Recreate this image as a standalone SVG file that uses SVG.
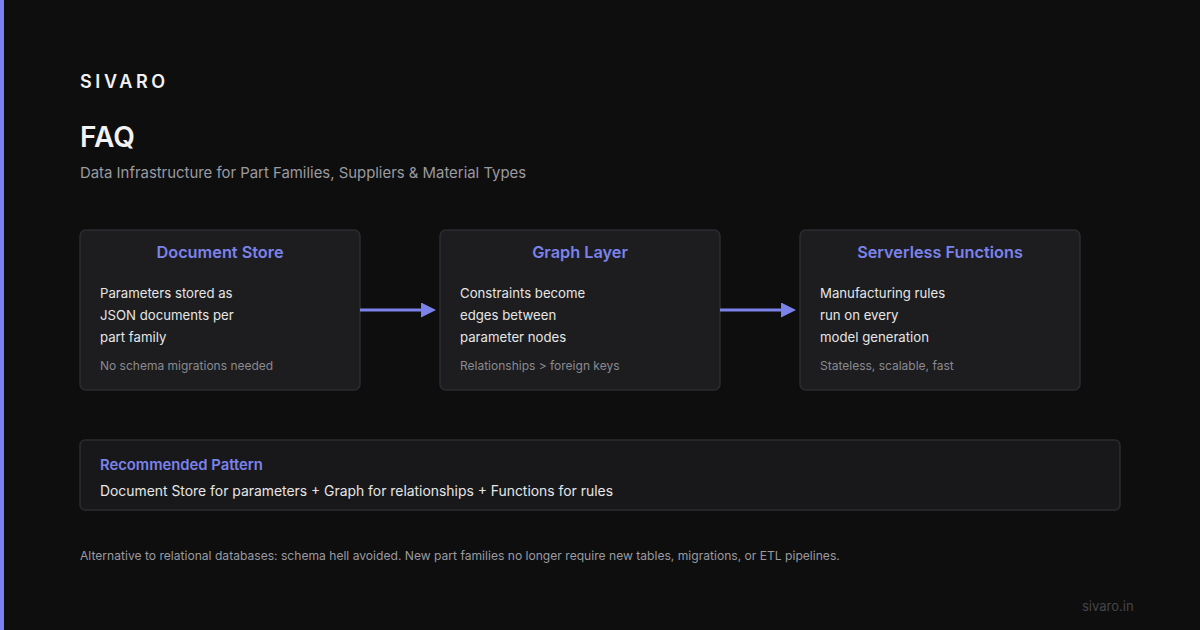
<svg xmlns="http://www.w3.org/2000/svg" width="1200" height="630" viewBox="0 0 1200 630">
<defs>
<style>
text{font-family:Inter,"Liberation Sans",sans-serif}
.card{fill:#1d1d20;stroke:#2c2c30;stroke-width:1.5}
.ttl{fill:#7b83eb;font-size:16.3px;font-weight:600;text-anchor:middle}
.body{fill:#e6e6e6;font-size:13.2px}
.note{fill:#8a8a8f;font-size:12px}
.conn{stroke:#7b83eb;stroke-width:3;fill:none}
</style>
<marker id="ah" markerWidth="5" markerHeight="5" refX="0" refY="2.5" orient="auto" markerUnits="strokeWidth"><path d="M0,0 L5,2.5 L0,5 Z" fill="#7b83eb"/></marker>
</defs>
<rect width="1200" height="630" fill="#0e0e0f"/>
<rect x="0" y="0" width="4" height="630" fill="#7b80f0"/>
<text x="80" y="88" fill="#f2f2f2" font-size="18" font-weight="600" letter-spacing="3.6">SIVARO</text>
<text x="80" y="147" fill="#f2f2f2" font-size="28" font-weight="600">FAQ</text>
<text x="80" y="178" fill="#9a9aa0" font-size="14.9">Data Infrastructure for Part Families, Suppliers &amp; Material Types</text>
<g id="node-document-store">
<rect class="card" x="80" y="230" width="280" height="160" rx="6"/>
<text class="ttl" x="220" y="258">Document Store</text>
<text class="body" x="100" y="298">Parameters stored as</text>
<text class="body" x="100" y="320">JSON documents per</text>
<text class="body" x="100" y="342">part family</text>
<text class="note" x="100" y="370">No schema migrations needed</text>
</g>
<g id="node-graph-layer">
<rect class="card" x="440" y="230" width="280" height="160" rx="6"/>
<text class="ttl" x="580" y="258">Graph Layer</text>
<text class="body" x="460" y="298">Constraints become</text>
<text class="body" x="460" y="320">edges between</text>
<text class="body" x="460" y="342">parameter nodes</text>
<text class="note" x="460" y="370">Relationships &gt; foreign keys</text>
</g>
<g id="node-serverless">
<rect class="card" x="800" y="230" width="280" height="160" rx="6"/>
<text class="ttl" x="940" y="258">Serverless Functions</text>
<text class="body" x="820" y="298">Manufacturing rules</text>
<text class="body" x="820" y="320">run on every</text>
<text class="body" x="820" y="342">model generation</text>
<text class="note" x="820" y="370">Stateless, scalable, fast</text>
</g>
<g id="connectors">
<line class="conn" x1="360" y1="310" x2="421" y2="310" marker-end="url(#ah)"/>
<line class="conn" x1="720" y1="310" x2="781" y2="310" marker-end="url(#ah)"/>
</g>
<g id="node-recommended">
<rect x="80" y="440" width="1040" height="70" rx="5" fill="#18181b" stroke="#2c2c30" stroke-width="1.5"/>
<text x="100" y="470" fill="#7b83eb" font-size="14.8" font-weight="600">Recommended Pattern</text>
<text x="100" y="496" fill="#e6e6e6" font-size="13.9">Document Store for parameters + Graph for relationships + Functions for rules</text>
</g>
<text x="80" y="560" fill="#9a9aa0" font-size="12.1">Alternative to relational databases: schema hell avoided. New part families no longer require new tables, migrations, or ETL pipelines.</text>
<text x="1082" y="611" fill="#45454a" font-size="13">sivaro.in</text>
</svg>
